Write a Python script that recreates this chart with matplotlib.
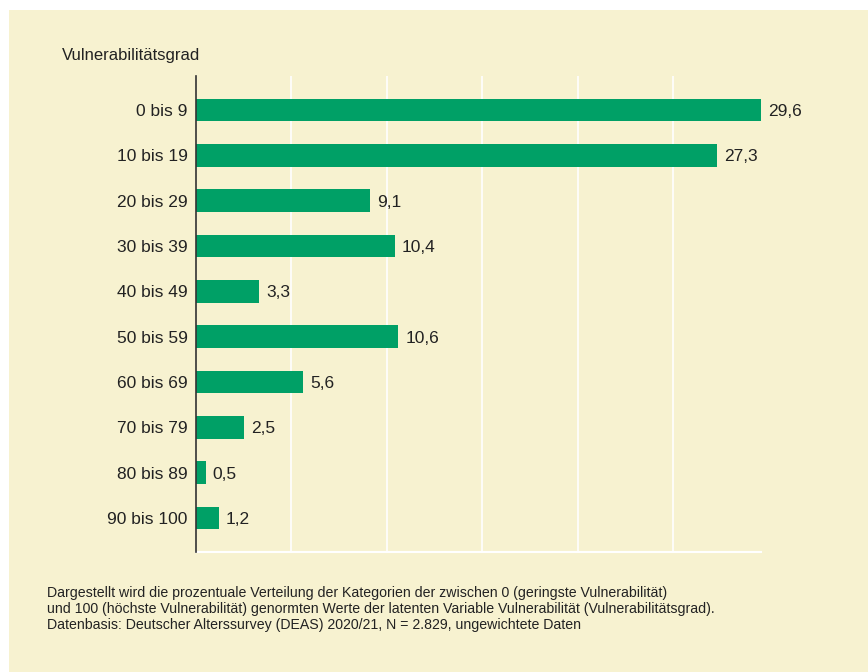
import matplotlib
matplotlib.use("Agg")
import matplotlib.pyplot as plt
from matplotlib.patches import Rectangle

categories = ["0 bis 9", "10 bis 19", "20 bis 29", "30 bis 39", "40 bis 49",
              "50 bis 59", "60 bis 69", "70 bis 79", "80 bis 89", "90 bis 100"]
values = [29.6, 27.3, 9.1, 10.4, 3.3, 10.6, 5.6, 2.5, 0.5, 1.2]
grid_ticks = [5, 10, 15, 20, 25]

BG = "#f7f2d0"
BAR = "#00a066"
TXT = "#222222"
FONT = "Liberation Sans"

fig = plt.figure(figsize=(8.68, 6.72), dpi=100)
fig.patch.set_facecolor("white")
fig.patches.append(Rectangle((9/868, 0), 1 - 9/868, 1 - 10/672, transform=fig.transFigure,
                             facecolor=BG, edgecolor="none", zorder=-10))

ax = fig.add_axes([196/868, 1 - 552/672, (761 - 196)/868, (552 - 76)/672])
ax.set_facecolor(BG)
ypos = list(range(len(categories)))
ax.barh(ypos, values, height=0.5, color=BAR, zorder=3)
ax.set_ylim(len(categories) - 0.25, -0.75)
ax.set_xlim(0, max(values))

for v, y in zip(values, ypos):
    ax.annotate(f"{v:.1f}".replace(".", ","), (v, y), xytext=(5, 0),
                textcoords="offset points", va="center_baseline", ha="left",
                fontsize=12.5, color=TXT, family=FONT)

ax.set_yticks(ypos)
ax.set_yticklabels(categories, fontsize=12.5, color=TXT, family=FONT)
ax.tick_params(axis="y", length=0, pad=6)
ax.set_xticks(grid_ticks)
ax.tick_params(axis="x", length=0, labelbottom=False)
ax.grid(axis="x", color="white", linewidth=1.2, zorder=0)
for s in ["top", "right"]:
    ax.spines[s].set_visible(False)
ax.spines["bottom"].set_color("white")
ax.spines["bottom"].set_linewidth(1.5)
ax.spines["left"].set_color("#333333")
ax.spines["left"].set_linewidth(1.2)
ax.spines["left"].set_zorder(4)

fig.text(62/868, 1 - 60/672, "Vulnerabilitätsgrad", fontsize=12, color=TXT,
         family=FONT, va="baseline", ha="left")

notes = ["Dargestellt wird die prozentuale Verteilung der Kategorien der zwischen 0 (geringste Vulnerabilität)",
         "und 100 (höchste Vulnerabilität) genormten Werte der latenten Variable Vulnerabilität (Vulnerabilitätsgrad).",
         "Datenbasis: Deutscher Alterssurvey (DEAS) 2020/21, N = 2.829, ungewichtete Daten"]
for i, line in enumerate(notes):
    fig.text(47/868, 1 - (597 + 16 * i)/672, line, fontsize=10.2, color=TXT,
             family=FONT, va="baseline", ha="left")

fig.savefig("out.png", dpi=100, facecolor=fig.get_facecolor())
